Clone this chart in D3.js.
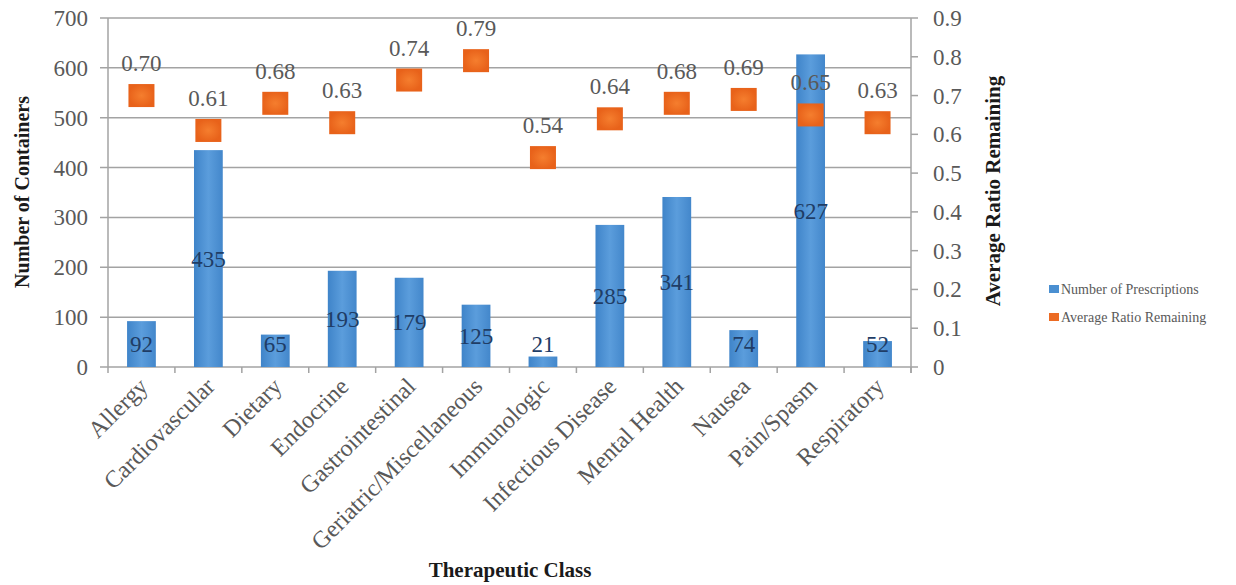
<!DOCTYPE html>
<html>
<head>
<meta charset="utf-8">
<script src="https://cdn.jsdelivr.net/npm/d3@7"></script>
<style>
  html, body { margin: 0; padding: 0; background: #fff; overflow: hidden; }
  svg { display: block; }
  text { font-family: "Liberation Serif", "Times New Roman", serif; }
</style>
</head>
<body>
<div id="viz"></div>
<script>
// data
const categories = ["Allergy", "Cardiovascular", "Dietary", "Endocrine", "Gastrointestinal",
    "Geriatric/Miscellaneous", "Immunologic", "Infectious Disease", "Mental Health",
    "Nausea", "Pain/Spasm", "Respiratory"];
const prescriptions = [92, 435, 65, 193, 179, 125, 21, 285, 341, 74, 627, 52];
const ratioRemaining = [0.70, 0.61, 0.68, 0.63, 0.74, 0.79, 0.54, 0.64, 0.68, 0.69, 0.65, 0.63];
const leftTicks = [0, 100, 200, 300, 400, 500, 600, 700];
const rightTicks = [0, 0.1, 0.2, 0.3, 0.4, 0.5, 0.6, 0.7, 0.8, 0.9];
const seriesNames = ["Number of Prescriptions", "Average Ratio Remaining"];

const width = 1236;
const height = 585;

const svg = d3.select("#viz")
    .append("svg")
    .attr("width", width)
    .attr("height", height);

const defs = svg.append("defs");
const barGrad = defs.append("linearGradient").attr("id", "barGrad")
    .attr("x1", "0%").attr("x2", "100%").attr("y1", "0%").attr("y2", "0%");
barGrad.append("stop").attr("offset", "0%").attr("stop-color", "#3f84c9");
barGrad.append("stop").attr("offset", "50%").attr("stop-color", "#5b9ddc");
barGrad.append("stop").attr("offset", "100%").attr("stop-color", "#4387cb");
const dotGrad = defs.append("radialGradient").attr("id", "dotGrad");
dotGrad.append("stop").attr("offset", "0%").attr("stop-color", "#f57e2e");
dotGrad.append("stop").attr("offset", "100%").attr("stop-color", "#e8621a");

const margin = {top: 18, left: 108, right: 325, bottom: 218};
const innerWidth = width - margin.left - margin.right;
const innerHeight = height - margin.top - margin.bottom;

const g = svg.append("g")
    .attr("transform", `translate(${margin.left}, ${margin.top})`);

const x = d3.scaleBand()
    .domain(categories)
    .range([0, innerWidth])
    .paddingInner(0.57)
    .paddingOuter(0.285);
const cx = d => x(d) + x.bandwidth() / 2;

const yL = d3.scaleLinear().domain([0, 700]).range([innerHeight, 0]);
const yR = d3.scaleLinear().domain([0, 0.9]).range([innerHeight, 0]);

const gridColor = "#a3a3a3";
const labelColor = "#595959";
const fs = 23;
const mid = fs * 0.35; // shift to centre digits on a y value

// gridlines + left ticks
g.selectAll(".grid").data(leftTicks).enter().append("line")
    .attr("x1", -8).attr("x2", innerWidth)
    .attr("y1", d => yL(d)).attr("y2", d => yL(d))
    .attr("stroke", gridColor).attr("stroke-width", 1.5);

g.selectAll(".ltick").data(leftTicks).enter().append("text")
    .attr("x", -20).attr("y", d => yL(d) + mid)
    .attr("text-anchor", "end")
    .attr("font-size", fs).attr("fill", labelColor)
    .text(d => d);

// right axis
g.append("line")
    .attr("x1", innerWidth).attr("x2", innerWidth)
    .attr("y1", 0).attr("y2", innerHeight + 6)
    .attr("stroke", gridColor).attr("stroke-width", 1.5);
g.selectAll(".rtickline").data(rightTicks).enter().append("line")
    .attr("x1", innerWidth).attr("x2", innerWidth + 7)
    .attr("y1", d => yR(d)).attr("y2", d => yR(d))
    .attr("stroke", gridColor).attr("stroke-width", 1.5);
g.selectAll(".rtick").data(rightTicks).enter().append("text")
    .attr("x", innerWidth + 22).attr("y", d => yR(d) + mid)
    .attr("font-size", fs).attr("fill", labelColor)
    .text(d => d === 0 ? "0" : d.toFixed(1));

// left axis line
g.append("line")
    .attr("x1", 0).attr("x2", 0)
    .attr("y1", 0).attr("y2", innerHeight)
    .attr("stroke", gridColor).attr("stroke-width", 1.5);

// category ticks on the bottom axis
g.selectAll(".xtick").data(d3.range(categories.length + 1)).enter().append("line")
    .attr("x1", i => i * x.step()).attr("x2", i => i * x.step())
    .attr("y1", innerHeight).attr("y2", innerHeight + 6)
    .attr("stroke", gridColor).attr("stroke-width", 1.5);

// bars
g.selectAll(".bar").data(categories).enter().append("rect")
    .attr("x", d => x(d))
    .attr("y", (d, i) => yL(prescriptions[i]))
    .attr("width", x.bandwidth())
    .attr("height", (d, i) => innerHeight - yL(prescriptions[i]))
    .attr("fill", "url(#barGrad)");

g.selectAll(".barlabel").data(categories).enter().append("text")
    .attr("x", cx)
    .attr("y", (d, i) => Math.min(yL(prescriptions[i] / 2), innerHeight - 23) + mid)
    .attr("text-anchor", "middle")
    .attr("font-size", fs).attr("fill", "#1f3d66")
    .text((d, i) => prescriptions[i]);

// ratio markers
const mw = 26, mh = 23;
g.selectAll(".dot").data(categories).enter().append("rect")
    .attr("x", d => cx(d) - mw / 2)
    .attr("y", (d, i) => yR(ratioRemaining[i]) - mh / 2)
    .attr("width", mw).attr("height", mh)
    .attr("fill", "url(#dotGrad)");

g.selectAll(".dotlabel").data(categories).enter().append("text")
    .attr("x", cx)
    .attr("y", (d, i) => yR(ratioRemaining[i]) - mh / 2 - 13)
    .attr("text-anchor", "middle")
    .attr("font-size", fs).attr("fill", labelColor)
    .text((d, i) => ratioRemaining[i].toFixed(2));

// category labels
g.selectAll(".xlabel").data(categories).enter().append("text")
    .attr("transform", d => `translate(${cx(d) - 4}, ${innerHeight + 9}) rotate(-45)`)
    .attr("text-anchor", "end").attr("dy", "0.7em")
    .attr("font-size", 24).attr("fill", labelColor)
    .text(d => d);

// axis titles
svg.append("text")
    .attr("transform", "translate(29, 192) rotate(-90)")
    .attr("text-anchor", "middle")
    .attr("font-size", 20).attr("font-weight", "bold").attr("fill", "#1a1a1a")
    .text("Number of Containers");
svg.append("text")
    .attr("transform", "translate(1000, 191) rotate(-90)")
    .attr("text-anchor", "middle")
    .attr("font-size", 21).attr("font-weight", "bold").attr("fill", "#1a1a1a")
    .text("Average Ratio Remaining");
svg.append("text")
    .attr("x", 510).attr("y", 577)
    .attr("text-anchor", "middle")
    .attr("font-size", 21).attr("font-weight", "bold").attr("fill", "#1a1a1a")
    .text("Therapeutic Class");

// legend
const legend = svg.append("g").attr("transform", "translate(1049, 289)");
const legendColors = ["#4a8fd1", "#ec6b23"];
seriesNames.forEach((name, i) => {
    legend.append("rect")
        .attr("x", 0).attr("y", i * 28 - 4)
        .attr("width", 10).attr("height", 8)
        .attr("fill", legendColors[i]);
    legend.append("text")
        .attr("x", 12).attr("y", i * 28 + 5)
        .attr("font-size", 14).attr("fill", labelColor)
        .text(name);
});
</script>
</body>
</html>
